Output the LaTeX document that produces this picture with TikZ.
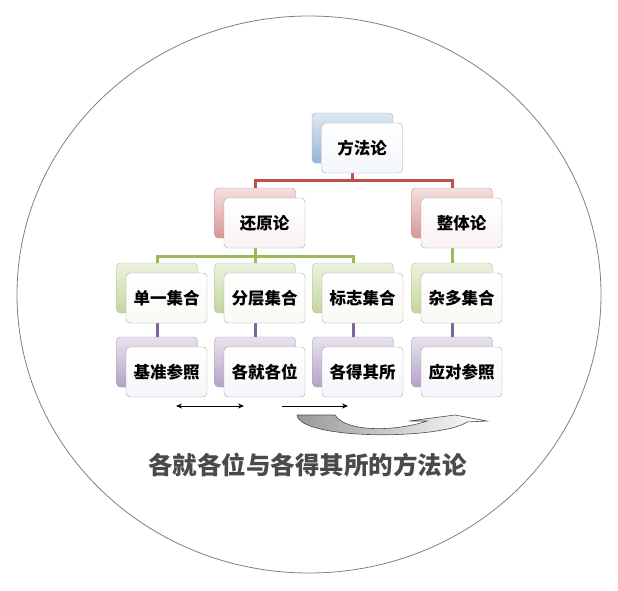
\documentclass[tikz,border=0pt]{standalone}
\usepackage{fontspec}
\setmainfont{Noto Sans CJK SC}
\usepackage{xcolor}
\usetikzlibrary{arrows.meta}
\definecolor{oblue}{HTML}{4F81BD}
\definecolor{ored}{HTML}{C0504D}
\definecolor{ogreen}{HTML}{9BBB59}
\definecolor{opurple}{HTML}{8064A2}
\definecolor{titlegray}{HTML}{4A4A4A}
\tikzset{box/.style={rounded corners=4pt, minimum width=81pt, minimum height=50pt, inner sep=0pt},
 front/.style={box, draw=black!35, top color=white, bottom color=#1!7,
  font=\fontsize{16.5}{20}\selectfont\bfseries},
 backbox/.style={box, draw=#1!50!gray!70, top color=#1!18, bottom color=#1!60},
 link/.style={draw=#1, line width=3pt},
 }

\begin{document}
\begin{tikzpicture}[x=1pt, y=-1pt]
        \useasboundingbox (0,0) rectangle (618,590);
        \draw [black!50, line width=0.8pt] (309,294.5) ellipse (292 and 278.5);
        % back boxes
        \node [backbox=oblue] (mb) at (352.5,138) {};
        \node [backbox=ored] (hb) at (255,213) {};
        \node [backbox=ored] (zb) at (452,213) {};
        \node [backbox=ogreen] (db) at (157,288) {};
        \node [backbox=ogreen] (fb) at (255,288) {};
        \node [backbox=ogreen] (bb) at (353,288) {};
        \node [backbox=ogreen] (sb) at (452,288) {};
        \node [backbox=opurple] (jb) at (157,362) {};
        \node [backbox=opurple] (gb) at (255,362) {};
        \node [backbox=opurple] (qb) at (353,362) {};
        \node [backbox=opurple] (yb) at (452,362) {};
        % connectors
        \draw [link=ored] (mb.south) -- ++(0,17) -| (hb.north);
        \draw [link=ored] (mb.south) -- ++(0,17) -| (zb.north);
        \draw [link=ogreen] (hb.south) -- ++(0,18) -| (db.north);
        \draw [link=ogreen] (hb.south) -- ++(0,18) -| (bb.north);
        \draw [link=ogreen] (hb.south) -- (fb.north);
        \draw [link=ogreen] (zb.south) -- (sb.north);
        \draw [link=opurple] (db.south) -- (jb.north);
        \draw [link=opurple] (fb.south) -- (gb.north);
        \draw [link=opurple] (bb.south) -- (qb.north);
        \draw [link=opurple] (sb.south) -- (yb.north);
        % front boxes
        \node [front=oblue] (m) at (362,148) {方法论};
        \node [front=ored] (h) at (264.5,223) {还原论};
        \node [front=ored] (z) at (461.5,223) {整体论};
        \node [front=ogreen] (d) at (166.5,298) {单一集合};
        \node [front=ogreen] (f) at (264.5,298) {分层集合};
        \node [front=ogreen] (b) at (362.5,298) {标志集合};
        \node [front=ogreen] (s) at (461.5,298) {杂多集合};
        \node [front=opurple] (j) at (166.5,372) {基准参照};
        \node [front=opurple] (g) at (264.5,372) {各就各位};
        \node [front=opurple] (q) at (362.5,372) {各得其所};
        \node [front=opurple] (y) at (461.5,372) {应对参照};
        % arrows
        \coordinate (a1) at (176,406);
        \coordinate (a2) at (244,406);
        \coordinate (a3) at (282,406);
        \coordinate (a4) at (348,406);
        \draw [{Stealth[length=6pt,width=5pt]}-{Stealth[length=6pt,width=5pt]}, line width=0.8pt] (a1) -- (a2);
        \draw [-{Stealth[length=6pt,width=5pt]}, line width=0.8pt] (a3) -- (a4);
        \draw [black!70, line width=0.6pt, left color=black!40, right color=white]
          (297,415) -- (335,415) .. controls (345,432) and (395,432) .. (427,421)
          -- (409,421) -- (455,415) -- (487,421) -- (467,422)
          .. controls (440,440) and (300,440) .. (297,415) -- cycle;
        \node [text=titlegray, font=\fontsize{24.5}{28}\selectfont\bfseries] (t) at (307.5,465) {各就各位与各得其所的方法论};
    \end{tikzpicture}
\end{document}
